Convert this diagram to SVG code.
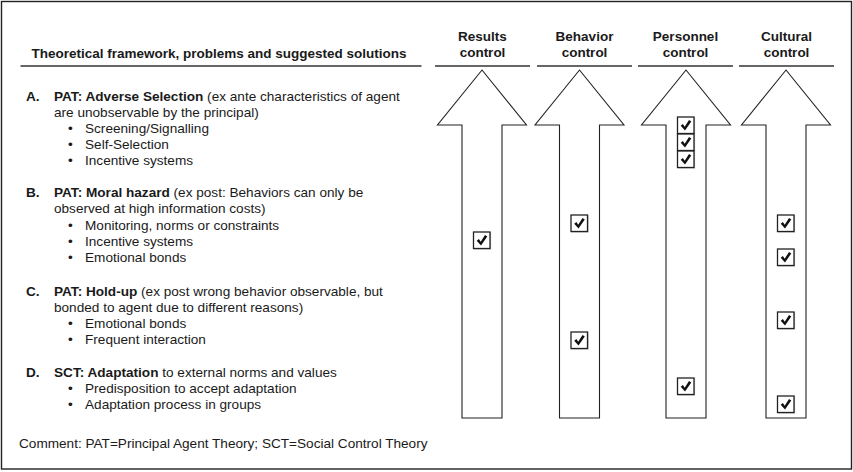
<svg xmlns="http://www.w3.org/2000/svg" xmlns:xlink="http://www.w3.org/1999/xlink" width="853" height="472" viewBox="0 0 853 472">
<style>
text{font-family:"Liberation Sans",Arial,sans-serif;font-size:13.6px;fill:#1a1a1a}
.b{font-weight:bold}
.hd{font-weight:bold;text-anchor:middle;font-size:13.5px}
.rule{stroke:#333;stroke-width:1.4;fill:none}
.arrow{fill:#fff;stroke:#222;stroke-width:1.1;stroke-linejoin:miter}
</style>
<defs>
<g id="chk">
<rect x="0.6" y="0.6" width="16.5" height="16.5" fill="#fff" stroke="#bbb" stroke-width="1"/>
<rect x="0" y="0" width="16.5" height="16.5" fill="#fff" stroke="#222" stroke-width="1.3"/>
<path d="M3.2,8.8 L5.4,7.1 L7.2,9.7 L11.5,2.9 L13.8,4.4 L7.5,13.4 Z" fill="#111"/>
</g>
</defs>
<rect x="1.5" y="1.5" width="850" height="467.5" fill="#fff" stroke="#222" stroke-width="1.4"/>
<g id="header">
<text class="hd" x="219" y="58" font-size="13">Theoretical framework, problems and suggested solutions</text>
<line class="rule" x1="20.5" y1="66" x2="421.5" y2="66"/>
</g>
<g id="item-a">
<text x="26" y="101"><tspan class="b">A.</tspan><tspan x="54" class="b">PAT: Adverse Selection</tspan> (ex ante characteristics of agent</text>
<text x="54" y="117">are unobservable by the principal)</text>
<text x="68" y="133">•<tspan x="85">Screening/Signalling</tspan></text>
<text x="68" y="149">•<tspan x="85">Self-Selection</tspan></text>
<text x="68" y="165">•<tspan x="85">Incentive systems</tspan></text>
</g>
<g id="item-b">
<text x="26" y="197"><tspan class="b">B.</tspan><tspan x="54" class="b">PAT: Moral hazard</tspan> (ex post: Behaviors can only be</text>
<text x="54" y="213">observed at high information costs)</text>
<text x="68" y="230">•<tspan x="85">Monitoring, norms or constraints</tspan></text>
<text x="68" y="246">•<tspan x="85">Incentive systems</tspan></text>
<text x="68" y="262">•<tspan x="85">Emotional bonds</tspan></text>
</g>
<g id="item-c">
<text x="26" y="296"><tspan class="b">C.</tspan><tspan x="54" class="b">PAT: Hold-up</tspan> (ex post wrong behavior observable, but</text>
<text x="54" y="312">bonded to agent due to different reasons)</text>
<text x="68" y="328">•<tspan x="85">Emotional bonds</tspan></text>
<text x="68" y="344">•<tspan x="85">Frequent interaction</tspan></text>
</g>
<g id="item-d">
<text x="26" y="377"><tspan class="b">D.</tspan><tspan x="54" class="b">SCT: Adaptation</tspan> to external norms and values</text>
<text x="68" y="393">•<tspan x="85">Predisposition to accept adaptation</tspan></text>
<text x="68" y="409">•<tspan x="85">Adaptation process in groups</tspan></text>
</g>
<g id="comment">
<text x="19" y="448">Comment: PAT=Principal Agent Theory; SCT=Social Control Theory</text>
</g>
<g id="results-control">
<text class="hd" x="482.5" y="41">Results</text>
<text class="hd" x="482.5" y="57">control</text>
<line class="rule" x1="435" y1="66" x2="530" y2="66"/>
<polygon class="arrow" points="482,70 526.5,125 502,125 502,418 462,418 462,125 437.5,125"/>
<use xlink:href="#chk" x="473.5" y="232"/>
</g>
<g id="behavior-control">
<text class="hd" x="584.5" y="41">Behavior</text>
<text class="hd" x="584.5" y="57">control</text>
<line class="rule" x1="537" y1="66" x2="632" y2="66"/>
<polygon class="arrow" points="579.5,70 624,125 599.5,125 599.5,418 559.5,418 559.5,125 535,125"/>
<use xlink:href="#chk" x="571" y="215"/>
<use xlink:href="#chk" x="571" y="332"/>
</g>
<g id="personnel-control">
<text class="hd" x="685.5" y="41">Personnel</text>
<text class="hd" x="685.5" y="57">control</text>
<line class="rule" x1="638" y1="66" x2="733" y2="66"/>
<polygon class="arrow" points="686,70 730.5,125 706,125 706,418 666,418 666,125 641.5,125"/>
<use xlink:href="#chk" x="677.5" y="117"/>
<use xlink:href="#chk" x="677.5" y="134"/>
<use xlink:href="#chk" x="677.5" y="151"/>
<use xlink:href="#chk" x="677.5" y="378"/>
</g>
<g id="cultural-control">
<text class="hd" x="786.5" y="41">Cultural</text>
<text class="hd" x="786.5" y="57">control</text>
<line class="rule" x1="739" y1="66" x2="834" y2="66"/>
<polygon class="arrow" points="786,70 830.5,125 806,125 806,418 766,418 766,125 741.5,125"/>
<use xlink:href="#chk" x="777.5" y="215"/>
<use xlink:href="#chk" x="777.5" y="249"/>
<use xlink:href="#chk" x="777.5" y="312"/>
<use xlink:href="#chk" x="777.5" y="396"/>
</g>
<g id="connectors"/>
</svg>
